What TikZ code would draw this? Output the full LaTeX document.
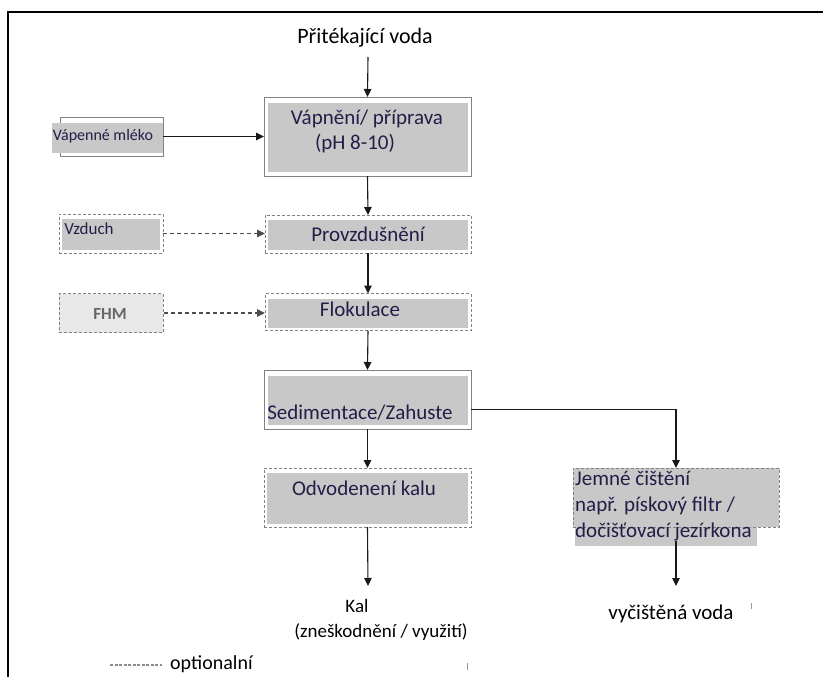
\documentclass[tikz,border=0pt]{standalone}
\usepackage{fontspec}
\setmainfont{Carlito}
\usetikzlibrary{arrows.meta}
\definecolor{boxgray}{RGB}{200,200,200}
\definecolor{lightbox}{RGB}{232,232,232}
\definecolor{edgegray}{RGB}{130,130,130}
\definecolor{txtc}{RGB}{38,28,72}
\tikzset{
  arr/.style={draw=black!90, line width=1.1pt, -{Triangle[length=8pt,width=7.5pt]}},
  darr/.style={draw=black!70, line width=1.3pt, dash pattern=on 4pt off 3pt, -{Triangle[length=8pt,width=7.5pt]}},
  mainbox/.style={draw=edgegray, line width=0.8pt, fill=white, inner sep=0pt, outer sep=0pt,
    path picture={\fill[boxgray] ([shift={(3.5pt,-6pt)}]path picture bounding box.north west) rectangle ([shift={(-3.5pt,4pt)}]path picture bounding box.south east);}},
  optbox/.style={draw=edgegray, line width=1pt, dash pattern=on 3pt off 2pt, fill=white, inner sep=0pt, outer sep=0pt,
    path picture={\fill[boxgray] ([shift={(3pt,-5pt)}]path picture bounding box.north west) rectangle ([shift={(-3pt,3pt)}]path picture bounding box.south east);}},
  boxtxt/.style={text=txtc, font=\fontsize{21}{25}\selectfont, inner sep=0pt},
  plaintxt/.style={text=black, font=\fontsize{20}{24}\selectfont, inner sep=0pt},
}
\begin{document}
\begin{tikzpicture}[x=1pt,y=-1pt]
\useasboundingbox (0,0) rectangle (823,677);
% frame
\draw[line width=1.6pt] (8,677) -- (8,12) -- (823,12);

% inflow
\node[plaintxt, font=\fontsize{22}{26}\selectfont] (inflow) at (365,38) {Přitékající voda};
\coordinate (inflowend) at (368,57);

% Vapneni
\node[mainbox, minimum width=207pt, minimum height=79pt] (vap) at (367.5,136.5) {};
\node[boxtxt] (vapT1) at (367,119) {Vápnění/ příprava};
\node[boxtxt] (vapT2) at (355,144) {(pH 8-10)};

% Vapenne mleko
\node[draw=edgegray, line width=0.8pt, fill=white, inner sep=0pt, outer sep=0pt, minimum width=103pt, minimum height=39pt] (mleko) at (111.5,136.5) {};
\fill[boxgray] (52,123) rectangle (163,153);
\node[text=txtc, font=\fontsize{16}{19}\selectfont, inner sep=0pt] (mlekoT) at (103,136) {Vápenné mléko};

% Provzdusneni
\node[optbox, minimum width=206pt, minimum height=38pt] (prov) at (368,234) {};
\node[boxtxt] (provT) at (368,234) {Provzdušnění};

% Vzduch
\node[optbox, minimum width=104pt, minimum height=39pt] (vzd) at (111,233.5) {};
\node[text=txtc, font=\fontsize{17}{20}\selectfont, inner sep=0pt] (vzdT) at (89,229) {Vzduch};

% Flokulace
\node[optbox, minimum width=206pt, minimum height=37pt] (flok) at (368,312) {};
\node[boxtxt] (flokT) at (360,309) {Flokulace};

% FHM
\node[draw=edgegray, line width=1pt, dash pattern=on 3pt off 2pt, fill=lightbox, inner sep=0pt, minimum width=104pt, minimum height=39pt] (fhm) at (111,313) {};
\node[text=black!60, font=\bfseries\fontsize{17}{20}\selectfont, inner sep=0pt] (fhmT) at (110,314) {FHM};

% Sedimentace
\node[mainbox, minimum width=207pt, minimum height=59pt] (sed) at (367.5,399.5) {};
\node[boxtxt] (sedT) at (360,413) {Sedimentace/Zahuste};

% Odvodeneni
\node[optbox, minimum width=207pt, minimum height=59pt] (odv) at (367.5,497.5) {};
\node[boxtxt] (odvT) at (364,488) {Odvodenení kalu};

% Jemne cisteni
\fill[boxgray] (575,520) rectangle (757,546);
\node[draw=edgegray, line width=1pt, dash pattern=on 3pt off 2pt, fill=boxgray, inner sep=0pt, outer sep=0pt, minimum width=206pt, minimum height=59pt] (jem) at (676,497.5) {};
\node[boxtxt, align=left, anchor=north west, font=\fontsize{21}{26}\selectfont] (jemT) at (575,471) {Jemné čištění\\např. pískový filtr /\\dočišťovací jezírkona};

% outputs
\node[plaintxt, font=\fontsize{19}{23}\selectfont] (kal) at (357,606) {Kal};
\node[plaintxt, font=\fontsize{19}{23}\selectfont] (kal2) at (381,632) {(zneškodnění / využití)};
\coordinate (kalend) at (368,586);
\node[plaintxt, font=\fontsize{21}{25}\selectfont] (clean) at (671,614) {vyčištěná voda};
\coordinate (cleanend) at (676,586);

% legend
\coordinate (lg1) at (110,665);
\coordinate (lg2) at (162,665);
\draw[black!45, line width=1.5pt, dash pattern=on 3pt off 1.5pt] (lg1) -- (lg2);
\node[plaintxt, anchor=west] (legT) at (170,664) {optionalní};

% tiny marks
\draw[black!40, line width=1pt] (467,663) -- (467,670);
\draw[black!40, line width=1pt] (751,603) -- (751,609);

% connectors
\draw[arr] (inflowend) -- (vap.north);
\draw[arr] (mleko.east) -- (mleko.east -| vap.west);
\draw[arr] (vap.south) -- (prov.north);
\draw[darr] (vzd.east) -- (vzd.east -| prov.west);
\draw[arr] (prov.south) -- (flok.north);
\draw[darr] (fhm.east) -- (fhm.east -| flok.west);
\draw[arr] (flok.south) -- (sed.north);
\draw[arr] (sed.south) -- (odv.north);
\draw[arr] ([yshift=-10pt]sed.east) -| (jem.north);
\draw[arr] (odv.south) -- (kalend);
\draw[arr] (jem.south |- jemT.south) -- (cleanend);
\end{tikzpicture}
\end{document}
